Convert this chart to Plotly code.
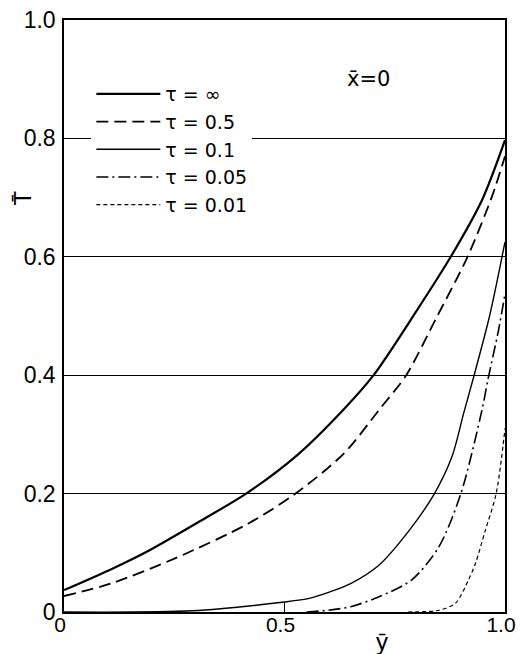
import plotly.graph_objects as go

# ---- data ----
x_inf = [0, 0.106, 0.193, 0.305, 0.413, 0.529, 0.634, 0.702, 0.798, 0.877, 0.948, 1.0]
T_inf = [0.037, 0.072, 0.104, 0.152, 0.2, 0.265, 0.342, 0.4, 0.507, 0.6, 0.696, 0.797]

x_05 = [0, 0.106, 0.253, 0.417, 0.525, 0.635, 0.715, 0.776, 0.843, 0.915, 0.971, 1.0]
T_05 = [0.027, 0.048, 0.091, 0.149, 0.2, 0.268, 0.342, 0.4, 0.495, 0.6, 0.703, 0.77]

x_01 = [0, 0.29, 0.5, 0.556, 0.603, 0.65, 0.714, 0.782, 0.84, 0.88, 0.906, 0.93, 0.965, 1.0]
T_01 = [0, 0.002, 0.017, 0.023, 0.034, 0.048, 0.079, 0.137, 0.2, 0.263, 0.335, 0.4, 0.5, 0.625]

x_005 = [0.55, 0.6, 0.65, 0.709, 0.788, 0.85, 0.9, 0.948, 0.962, 0.985, 1.0]
T_005 = [0, 0.003, 0.009, 0.024, 0.054, 0.11, 0.2, 0.342, 0.395, 0.475, 0.537]

x_001 = [0.78, 0.85, 0.888, 0.917, 0.933, 0.955, 0.98, 1.0]
T_001 = [0, 0.003, 0.015, 0.054, 0.082, 0.137, 0.2, 0.31]

labels = ["τ = ∞", "τ = 0.5", "τ = 0.1", "τ = 0.05", "τ = 0.01"]

y_ticks = [0, 0.2, 0.4, 0.6, 0.8, 1.0]
y_ticktext = ["0", "0.2", "0.4", "0.6", "0.8", "1.0"]
x_ticks = [0, 0.5, 1.0]
x_ticktext = ["0", "0.5", "1.0"]

series = [
    (x_inf, T_inf, dict(width=2.2, dash="solid")),
    (x_05, T_05, dict(width=1.8, dash="12px,6px")),
    (x_01, T_01, dict(width=1.4, dash="solid")),
    (x_005, T_005, dict(width=1.6, dash="12px,4px,2px,4px")),
    (x_001, T_001, dict(width=1.2, dash="4px,3px")),
]

FONT = "Liberation Sans"
FONT2 = "DejaVu Sans"

fig = go.Figure()
for i, ((xs, ys, ln), name) in enumerate(zip(series, labels)):
    fig.add_trace(go.Scatter(
        x=xs, y=ys, mode="lines", name=name, legendgroup=f"g{i}",
        line=dict(color="black", shape="spline", smoothing=0.8, **ln),
    ))

fig.update_layout(
    width=516, height=646,
    margin=dict(l=56, r=19, t=12, b=42, autoexpand=False),
    paper_bgcolor="white", plot_bgcolor="white",
    font=dict(family=FONT, color="black", size=24),
    showlegend=True,
    legend=dict(
        x=0.062, y=0.907, xanchor="left", yanchor="top",
        bgcolor="white", borderwidth=0,
        font=dict(family=FONT2, size=19, color="black"),
        tracegroupgap=0, itemwidth=64,
    ),
    xaxis=dict(
        range=[0, 1], tickvals=x_ticks, ticktext=x_ticktext,
        ticks="inside", ticklen=10, tickwidth=1.3, tickcolor="black",
        showgrid=False, zeroline=False, automargin=False,
        showline=True, linecolor="black", linewidth=1.5, mirror=True,
        tickfont=dict(size=21), ticklabelstandoff=-7, ticklabelshift=-4,
        ticklabeloverflow="allow",
    ),
    yaxis=dict(
        range=[0, 1], tickvals=y_ticks, ticktext=y_ticktext,
        ticks="", showgrid=True, gridcolor="black", gridwidth=1.2,
        zeroline=False, automargin=False,
        showline=True, linecolor="black", linewidth=1.5, mirror=True,
        tickfont=dict(size=23), ticklabeloverflow="allow",
        ticklabelstandoff=2,
    ),
    annotations=[
        dict(text="x\u0304=0", x=0.69, y=0.9, xref="x", yref="y",
             showarrow=False, font=dict(family=FONT2, size=21),
             xanchor="center", yanchor="middle"),
        dict(text="y\u0304", x=0.72, y=-0.05, xref="x", yref="paper",
             showarrow=False, font=dict(size=24),
             xanchor="center", yanchor="middle"),
        dict(text="T\u0304", x=-0.093, y=0.7, xref="paper", yref="y",
             showarrow=False, font=dict(size=24), textangle=-90,
             xanchor="center", yanchor="middle"),
    ],
)

fig.write_html("out.html")
